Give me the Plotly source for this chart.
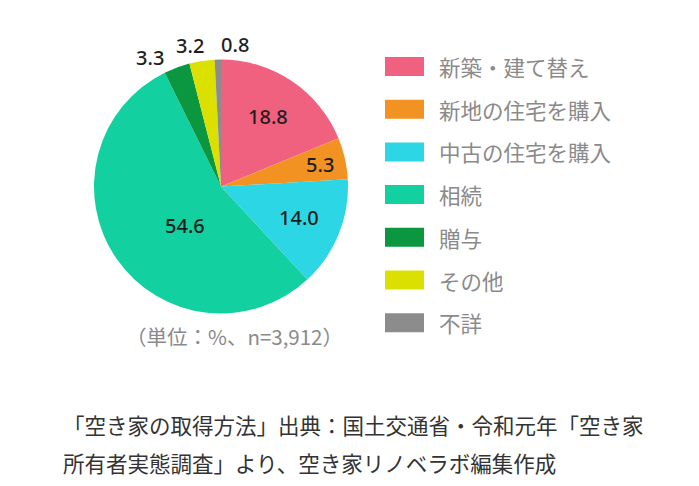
import math
import plotly.graph_objects as go

categories = ["新築・建て替え", "新地の住宅を購入", "中古の住宅を購入", "相続", "贈与", "その他", "不詳"]
values = [18.8, 5.3, 14.0, 54.6, 3.3, 3.2, 0.8]
colors = ["#F0607F", "#F29222", "#2DD6E4", "#13D0A0", "#0B9640", "#DCE000", "#8C8C8C"]

caption_unit = "（単位：%、n=3,912）"
source_lines = ["「空き家の取得方法」出典：国土交通省・令和元年「空き家",
                "所有者実態調査」より、空き家リノベラボ編集作成"]

# label placement styling: radial fraction of the radius and pixel nudge per slice
label_rf = [0.66, 0.80, 0.66, 0.42, 1.0, 1.0, 1.0]
label_nudge = [(0, 0), (0, 0), (0, 0), (8, 9), (-27, -10), (-12, -15), (17, -15)]

W, H = 699, 486
OFF = 8  # page body margin offset
JP = "Noto Sans CJK JP"
NUM = "Noto Sans"


def px(x, y):
    return (x - OFF) / W, 1 - (y - OFF) / H


# pie geometry (pixels on the page)
cx, cy, R = 221, 186.5, 127

fig = go.Figure()
x0, y0 = px(cx - R, cy + R)
x1, y1 = px(cx + R, cy - R)
fig.add_trace(go.Pie(
    labels=categories, values=values, sort=False, direction="clockwise", rotation=0,
    marker=dict(colors=colors, line=dict(width=0)),
    textinfo="none",
    domain=dict(x=[x0, x1], y=[y0, y1]),
    showlegend=False, hoverinfo="label+value",
))

# value labels positioned from each slice's mid-angle
total = sum(values)
cum = 0.0
for i, v in enumerate(values):
    mid = (cum + v / 2) / total * 2 * math.pi
    cum += v
    dx, dy = label_nudge[i]
    lx = cx + label_rf[i] * R * math.sin(mid) + dx
    ly = cy - label_rf[i] * R * math.cos(mid) + dy
    ax, ay = px(lx, ly)
    fig.add_annotation(x=ax, y=ay, xref="paper", yref="paper",
                       text=f"{v:.1f}", showarrow=False, xanchor="center", yanchor="middle",
                       font=dict(family=NUM, size=20, color="#1E1E1E", weight=500))

# legend built from categories/colors
lx0, lx1, ltext = 385, 424, 437
ly0, lstep, lh = 66.5, 42.7, 19
for i, (c, col) in enumerate(zip(categories, colors)):
    yc = ly0 + i * lstep
    sx0, sy0 = px(lx0, yc + lh / 2)
    sx1, sy1 = px(lx1, yc - lh / 2)
    fig.add_shape(type="rect", xref="paper", yref="paper",
                  x0=sx0, x1=sx1, y0=sy0, y1=sy1,
                  fillcolor=col, line=dict(width=0))
    tx, ty = px(ltext, yc)
    fig.add_annotation(x=tx, y=ty, xref="paper", yref="paper",
                       text=c, showarrow=False, xanchor="left", yanchor="middle",
                       font=dict(family=JP, size=21.5, color="#8A8A8A"))

tx, ty = px(234, 336)
fig.add_annotation(x=tx, y=ty, xref="paper", yref="paper", text=caption_unit,
                   showarrow=False, xanchor="center", yanchor="middle",
                   font=dict(family=JP, size=20.5, color="#8A8A8A"))
for i, line in enumerate(source_lines):
    tx, ty = px(61, 424 + i * 38)
    fig.add_annotation(x=tx, y=ty, xref="paper", yref="paper", text=line,
                       showarrow=False, xanchor="left", yanchor="middle",
                       font=dict(family=JP, size=21.5, color="#333333"))

fig.update_layout(width=W, height=H, margin=dict(l=0, r=0, t=0, b=0),
                  paper_bgcolor="white", plot_bgcolor="white")
fig.write_html("out.html")
